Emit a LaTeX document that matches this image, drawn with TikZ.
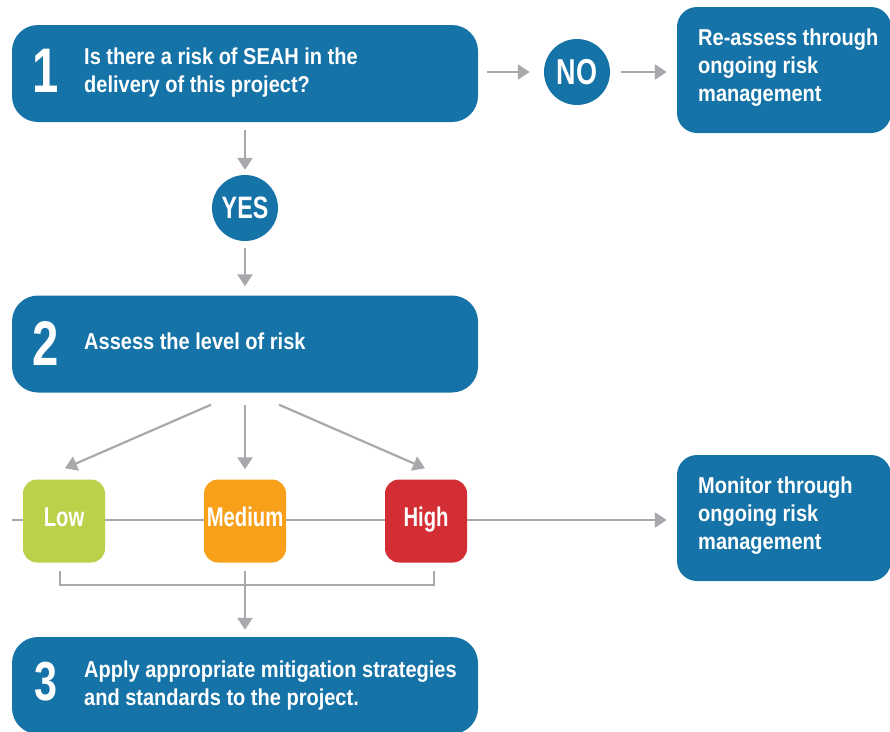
\documentclass[tikz,border=0pt]{standalone}
\usepackage{fontspec}
\setmainfont{Liberation Sans}[FakeStretch=0.87]
\newfontfamily\narrowfont{Liberation Sans}[FakeStretch=0.75]
\usetikzlibrary{arrows.meta,calc}

\definecolor{flowblue}{RGB}{21,115,168}
\definecolor{linkgray}{RGB}{167,169,172}
\definecolor{lowgreen}{RGB}{185,210,74}
\definecolor{medorange}{RGB}{249,160,27}
\definecolor{highred}{RGB}{210,46,52}

\begin{document}
\begin{tikzpicture}[x=1pt,y=-1pt,
  panel/.style={rectangle, rounded corners=26pt, fill=flowblue, inner sep=0pt},
  sidepanel/.style={panel, rounded corners=20pt, minimum width=214pt, minimum height=126pt},
  mainpanel/.style={panel, minimum width=466pt, minimum height=97pt},
  numeral/.style={text=white, inner sep=0pt, anchor=base, font=\narrowfont\bfseries\fontsize{63}{63}\selectfont},
  % multi-line texts are placed by the baseline of their last line
  bodytext/.style={text=white, inner sep=0pt, anchor=base west, align=left, font=\bfseries\fontsize{23}{28}\selectfont},
  bubble/.style={circle, fill=flowblue, text=white, inner sep=0pt, minimum size=66pt},
  tile/.style={rectangle, rounded corners=14pt, inner sep=0pt, minimum width=82pt, minimum height=83pt,
    text height=20pt, text depth=10pt, text=white, font=\narrowfont\bfseries\fontsize{27}{27}\selectfont},
  link/.style={draw=linkgray, line width=2.2pt},
  arr/.style={link, -{Triangle[length=12pt,width=15pt]}}
]
\useasboundingbox (0,0) rectangle (890,731);
\clip (0,0) rectangle (890,731);

% step 1: the screening question
\node[mainpanel] (q1) at (245,73.5) {};
\node[numeral] (q1num) at (46,92) {1};
\node[bodytext] (q1text) at (84,92) {Is there a risk of SEAH in the\\delivery of this project?};

% the NO branch
\node[bubble, font=\narrowfont\bfseries\fontsize{36}{36}\selectfont] (no) at (577,72) {NO};
\node[sidepanel] (reassess) at (784,70) {};
\node[bodytext] (reassesstext) at (698,101) {Re-assess through\\ongoing risk\\management};

\draw[arr, shorten <=9pt, shorten >=14pt] (q1.east |- no.west) -- (no.west);
\draw[arr, shorten <=11pt, shorten >=10pt] (no.east) -- (no.east -| reassess.west);

% the YES branch
\node[bubble, font=\narrowfont\bfseries\fontsize{31}{31}\selectfont] (yes) at (245,208) {YES};
\draw[arr, shorten <=8pt, shorten >=5pt] (q1.south) -- (yes.north);

% step 2: rating the risk
\node[mainpanel] (q2) at (245,344) {};
\node[numeral] (q2num) at (46,365) {2};
\node[bodytext] (q2text) at (84,349) {Assess the level of risk};
\draw[arr, shorten <=7pt, shorten >=9pt] (yes.south) -- (q2.north);

% monitoring panel
\node[sidepanel] (monitor) at (784,518) {};
\node[bodytext] (monitortext) at (698,549) {Monitor through\\ongoing risk\\management};

% the scale line runs behind the tiles and on to monitoring
\coordinate (scaleL) at (12,520);
\coordinate (scaleR) at (467,520);
\draw[link] (scaleL) -- (scaleR);
\draw[arr, shorten >=10pt] (scaleR) -- (scaleR -| monitor.west);

% risk levels
\node[tile, fill=lowgreen] (low) at (64,521) {Low};
\node[tile, fill=medorange] (mid) at (245,521) {Medium};
\node[tile, fill=highred] (high) at (426,521) {High};

\coordinate (fanL) at ($(q2.south)+(-34,12)$);
\coordinate (fanM) at ($(q2.south)+(0,12)$);
\coordinate (fanR) at ($(q2.south)+(34,12)$);
\draw[arr] (fanL) -- ($(low.north)+(1,-11)$);
\draw[arr] (fanM) -- ($(mid.north)+(0,-10)$);
\draw[arr] (fanR) -- ($(high.north)+(-1,-11)$);

% bracket gathering all levels into step 3
\node[mainpanel] (q3) at (245,685.5) {};
\coordinate (brL) at ($(low.south)+(-4,8)$);
\coordinate (brR) at ($(high.south)+(8,8)$);
\coordinate (brM) at ($(mid.south)+(0,8)$);
\draw[link] (brL) -- ++(0,14) -| (brR);
\draw[arr] (brM) -- ($(q3.north)+(0,-7)$);

% step 3: mitigation
\node[numeral, font=\narrowfont\bfseries\fontsize{55}{55}\selectfont] (q3num) at (46,700) {3};
\node[bodytext] (q3text) at (84,705) {Apply appropriate mitigation strategies\\and standards to the project.};
\end{tikzpicture}
\end{document}
